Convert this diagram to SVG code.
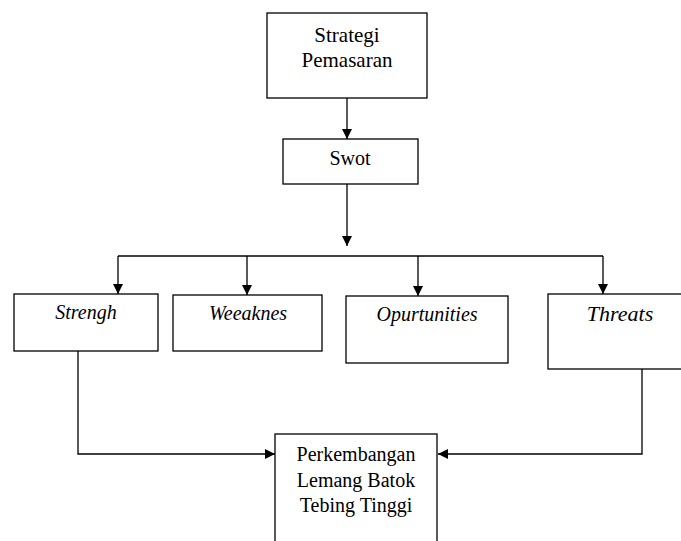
<svg xmlns="http://www.w3.org/2000/svg" width="681" height="541" viewBox="0 0 681 541">
<style>
.box{fill:#fff;stroke:#000;stroke-width:1.3}
.t{font-family:"Liberation Serif","Times New Roman",serif;fill:#000;text-anchor:middle;font-size:20px}
.i{font-style:italic}
.c{fill:none;stroke:#000;stroke-width:1.3}
</style>
<defs>
<marker id="ah" markerWidth="10" markerHeight="10" refX="10" refY="5" orient="auto" markerUnits="userSpaceOnUse">
<path d="M0,0 L10,5 L0,10 Z" fill="#000"/>
</marker>
</defs>
<rect width="681" height="541" fill="#fff"/>
<g id="connectors">
<path class="c" d="M347,98 V139" marker-end="url(#ah)"/>
<path class="c" d="M347,184 V246" marker-end="url(#ah)"/>
<path class="c" d="M118,256 H603"/>
<path class="c" d="M118,256 V294" marker-end="url(#ah)"/>
<path class="c" d="M247,256 V295" marker-end="url(#ah)"/>
<path class="c" d="M418,256 V296" marker-end="url(#ah)"/>
<path class="c" d="M603,256 V294" marker-end="url(#ah)"/>
<path class="c" d="M78,351 V454 H275" marker-end="url(#ah)"/>
<path class="c" d="M642,369 V454 H438" marker-end="url(#ah)"/>
</g>
<g id="strategi">
<rect class="box" x="267" y="13" width="160" height="85"/>
<text class="t" x="347" y="42" style="font-size:21px">Strategi</text>
<text class="t" x="347" y="67" style="font-size:21px">Pemasaran</text>
</g>
<g id="swot">
<rect class="box" x="283" y="139" width="135" height="45"/>
<text class="t" x="350" y="165">Swot</text>
</g>
<g id="strengh">
<rect class="box" x="14" y="294" width="144" height="57"/>
<text class="t i" x="86" y="319">Strengh</text>
</g>
<g id="weeaknes">
<rect class="box" x="173" y="295" width="149" height="56"/>
<text class="t i" x="248" y="320">Weeaknes</text>
</g>
<g id="opurtunities">
<rect class="box" x="346" y="296" width="162" height="67"/>
<text class="t i" x="427" y="321">Opurtunities</text>
</g>
<g id="threats">
<rect class="box" x="548" y="294" width="145" height="75"/>
<text class="t i" x="620" y="321" style="font-size:22px">Threats</text>
</g>
<g id="perkembangan">
<rect class="box" x="275" y="434" width="162" height="115"/>
<text class="t" x="356" y="461">Perkembangan</text>
<text class="t" x="356" y="487">Lemang Batok</text>
<text class="t" x="356" y="512">Tebing Tinggi</text>
</g>
</svg>
